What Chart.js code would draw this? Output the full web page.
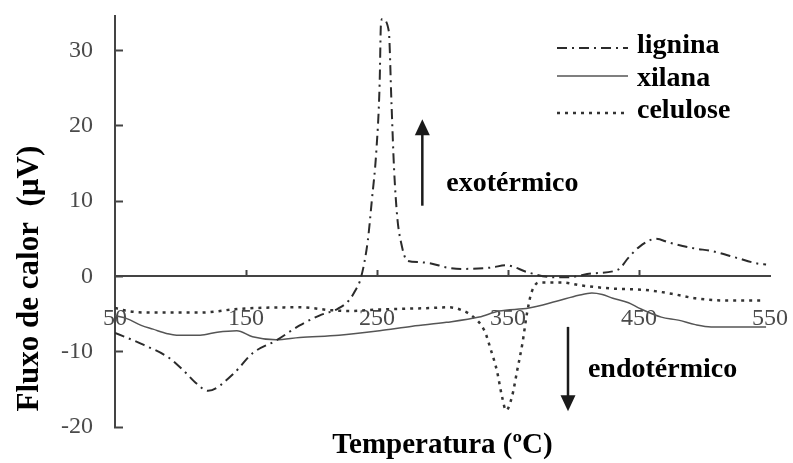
<!DOCTYPE html>
<html>
<head>
<meta charset="utf-8">
<script src="https://cdn.jsdelivr.net/npm/chart.js@4.4.1/dist/chart.umd.min.js"></script>
<style>
  html, body { margin: 0; padding: 0; background: #fff; }
  #wrap { width: 793px; height: 463px; position: relative; }
</style>
</head>
<body>
<div id="wrap"><canvas id="dsc-chart"></canvas></div>
<script>
// axis ticks
const xTicks = [50, 150, 250, 350, 450, 550];
const yTicks = [-20, -10, 0, 10, 20, 30];

// lignina (dash-dot)
const ligninaT = [50, 72, 92, 104, 112, 121, 140, 155, 173, 191, 206, 220, 228, 233, 238, 243, 246, 249.5, 252, 253, 254,
  259, 261, 263, 265.5, 268.5, 273, 282, 292, 303, 315, 338, 348, 366, 384, 396, 414, 434, 442, 450, 463, 473, 493, 505, 524, 541, 547];
const ligninaV = [-7.5, -9.1, -10.9, -12.8, -14.2, -15.2, -13.0, -10.2, -8.5, -6.5, -5.2, -4.3, -3.3, -2.0, 0, 4.8, 10, 16.7, 25.5, 33.5, 34.2,
  32.6, 23.3, 14.4, 7.8, 4.4, 2.1, 1.9, 1.7, 1.2, 1.0, 1.2, 1.5, 0.5, -0.1, -0.1, 0.4, 0.9, 2.5, 3.9, 5.0, 4.5, 3.7, 3.4, 2.5, 1.7, 1.6];

// xilana (solid)
const xilanaT = [50, 59, 70, 79, 90, 97, 115, 128, 143, 155, 173, 191, 221, 252, 277, 303, 328, 343, 366, 387, 404, 414, 422, 430, 442, 450, 467, 480, 493, 505, 547];
const xilanaV = [-5.2, -5.6, -6.5, -7.0, -7.6, -7.8, -7.8, -7.4, -7.2, -8.0, -8.4, -8.1, -7.8, -7.2, -6.6, -6.1, -5.4, -4.6, -4.2, -3.3, -2.5, -2.2, -2.4, -2.9, -3.5, -4.2, -5.4, -5.8, -6.4, -6.7, -6.7];

// celulose (dotted)
const celuloseT = [50, 60, 77, 115, 145, 191, 216, 229, 250, 269, 290, 305, 315, 323, 332, 337, 341.5, 345.5, 348.5, 353, 357, 361, 364.5, 368, 374, 391, 406, 429, 455, 475, 493, 518, 546];
const celuloseV = [-4.2, -4.6, -4.8, -4.8, -4.3, -4.1, -4.5, -4.6, -4.4, -4.3, -4.2, -4.1, -4.5, -5.3, -7.2, -9.8, -12.5, -16, -17.8, -16, -12.5, -8.9, -4.9, -2.1, -0.8, -0.8, -1.2, -1.6, -1.8, -2.3, -2.9, -3.2, -3.2];

const serif = "'Liberation Serif', 'Times New Roman', serif";

function pts(t, v) {
  return t.map((x, i) => ({ x: x, y: v[i] }));
}

// the axes place their labels themselves, so drop the extra margins chart.js asks for
function noPad(s) {
  s.paddingTop = 0;
  s.paddingBottom = 0;
  s.paddingLeft = 0;
  s.paddingRight = 0;
}

// arrows and their labels, in data units
const arrows = [
  { t: 284.6, from: 9.4, to: 20.9 },
  { t: 395.8, from: -6.7, to: -17.9 }
];
const notes = [
  { t: 302.9, v: 11.4, text: 'exotérmico' },
  { t: 411, v: -13.4, text: 'endotérmico' }
];

const annotations = {
  id: 'annotations',
  afterDraw(chart) {
    const { ctx, chartArea } = chart;
    const x = chart.scales.x, y = chart.scales.y;
    ctx.save();
    ctx.strokeStyle = '#1a1a1a';
    ctx.fillStyle = '#1a1a1a';
    ctx.lineWidth = 2.5;
    arrows.forEach(a => {
      const px = x.getPixelForValue(a.t);
      const p0 = y.getPixelForValue(a.from), p1 = y.getPixelForValue(a.to);
      const dir = Math.sign(p1 - p0);
      ctx.beginPath();
      ctx.moveTo(px, p0);
      ctx.lineTo(px, p1 - dir * 12);
      ctx.stroke();
      ctx.beginPath();
      ctx.moveTo(px, p1);
      ctx.lineTo(px - 7.5, p1 - dir * 16);
      ctx.lineTo(px + 7.5, p1 - dir * 16);
      ctx.closePath();
      ctx.fill();
    });
    ctx.fillStyle = '#000';
    ctx.font = 'bold 28px ' + serif;
    ctx.textAlign = 'left';
    ctx.textBaseline = 'alphabetic';
    notes.forEach(n => {
      ctx.fillText(n.text, x.getPixelForValue(n.t), y.getPixelForValue(n.v));
    });

    // legend, top right of the plot
    const lx0 = chartArea.right - 213, lx1 = chartArea.right - 142, tx = chartArea.right - 133;
    const rows = [32, 60, 97];
    const base = [37, 70, 102];
    chart.data.datasets.forEach((ds, i) => {
      ctx.save();
      ctx.strokeStyle = ds.borderColor;
      ctx.lineWidth = ds.borderWidth;
      ctx.setLineDash(ds.borderDash || []);
      ctx.beginPath();
      ctx.moveTo(lx0, chartArea.top + rows[i]);
      ctx.lineTo(lx1, chartArea.top + rows[i]);
      ctx.stroke();
      ctx.restore();
      ctx.fillText(ds.label, tx, chartArea.top + base[i]);
    });
    ctx.restore();
  }
};

const ctx = document.getElementById('dsc-chart').getContext('2d');

new Chart(ctx, {
  type: 'line',
  data: {
    datasets: [{
      label: 'lignina',
      data: pts(ligninaT, ligninaV),
      borderColor: '#2b2b2b',
      borderWidth: 2,
      borderDash: [10, 5, 2, 5],
      pointRadius: 0,
      fill: false,
      cubicInterpolationMode: 'monotone'
    }, {
      label: 'xilana',
      data: pts(xilanaT, xilanaV),
      borderColor: '#555555',
      borderWidth: 1.5,
      pointRadius: 0,
      fill: false,
      cubicInterpolationMode: 'monotone'
    }, {
      label: 'celulose',
      data: pts(celuloseT, celuloseV),
      borderColor: '#333333',
      borderWidth: 2.5,
      borderDash: [3, 5],
      pointRadius: 0,
      fill: false,
      cubicInterpolationMode: 'monotone'
    }]
  },
  options: {
    responsive: true,
    maintainAspectRatio: false,
    animation: false,
    layout: { padding: { top: 16, right: 23, left: 0, bottom: 0 } },
    plugins: {
      legend: { display: false },
      tooltip: { enabled: false }
    },
    scales: {
      x: {
        type: 'linear',
        min: 50,
        max: 550,
        position: { y: 0 },
        afterBuildTicks: s => { s.ticks = xTicks.map(v => ({ value: v })); },
        afterFit: s => { s.height = 0; noPad(s); },
        border: { display: true, color: '#444', width: 2 },
        grid: {
          drawOnChartArea: false,
          tickLength: -7,
          tickWidth: 2,
          tickColor: c => (c.tick && (c.tick.value === 50 || c.tick.value === 550)) ? 'rgba(0,0,0,0)' : '#444'
        },
        ticks: {
          color: '#4a4a4a',
          font: { family: serif, size: 24 },
          padding: 35,
          maxRotation: 0,
          autoSkip: false
        }
      },
      xt: {
        type: 'linear',
        min: 50,
        max: 550,
        position: 'bottom',
        afterFit: s => { s.height = 36; noPad(s); },
        ticks: { display: false },
        grid: { display: false, drawTicks: false },
        border: { display: false },
        title: {
          display: true,
          text: 'Temperatura (ºC)',
          color: '#000',
          font: { family: serif, size: 29, weight: 'bold' },
          padding: { top: 2, bottom: 0 }
        }
      },
      y: {
        min: -20,
        max: 34.6,
        afterBuildTicks: s => { s.ticks = yTicks.map(v => ({ value: v })); },
        afterFit: s => { s.width = 115; noPad(s); },
        border: { display: true, color: '#444', width: 2 },
        grid: { drawOnChartArea: false, tickLength: -8, tickWidth: 2, color: '#444' },
        ticks: {
          color: '#4a4a4a',
          font: { family: serif, size: 24 },
          padding: 30
        },
        title: {
          display: true,
          text: '  Fluxo de calor  (µV)',
          align: 'start',
          color: '#000',
          font: { family: serif, size: 31, weight: 'bold' },
          padding: { top: 11, bottom: 0 }
        }
      }
    }
  },
  plugins: [annotations]
});
</script>
</body>
</html>
